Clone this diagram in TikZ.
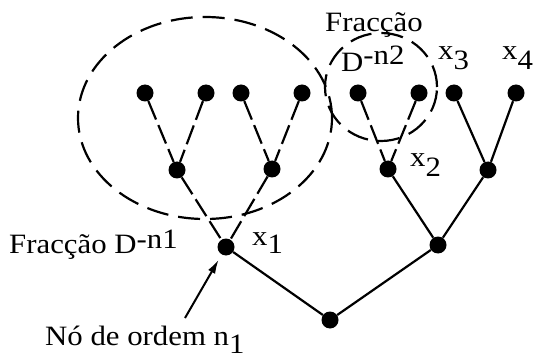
\documentclass[tikz,border=0pt]{standalone}
\usepackage{fontspec}
\setmainfont{Liberation Serif}
\usepackage{tikz}
\usetikzlibrary{arrows.meta}

\newcommand{\wide}[1]{\scalebox{1.1}[1]{#1}}
\newcommand{\lowidx}[2][10pt]{\raisebox{-#1}{#2}}
\newcommand{\highidx}[2][7pt]{\raisebox{#1}{#2}}

\begin{document}
\begin{tikzpicture}[
    x=1pt, y=-1pt,
    dot/.style={circle, fill=black, inner sep=0pt, minimum size=17pt},
    edge/.style={line width=2.2pt},
    dedge/.style={line width=2.2pt, dash pattern=on 20pt off 6pt},
    frac/.style={line width=2.2pt, dash pattern=on 22pt off 10pt},
    lbl/.style={inner sep=0pt, anchor=base west, font=\fontsize{28}{30}\selectfont},
    arrow/.style={-{Latex[length=14pt, width=8pt]}, line width=2pt},
  ]
  \useasboundingbox (0,0) rectangle (535,358);

  % leaves
  \node[dot] (l1) at (145,93) {};
  \node[dot] (l2) at (206,93) {};
  \node[dot] (l3) at (241,93) {};
  \node[dot] (l4) at (302,93) {};
  \node[dot] (l5) at (358,93) {};
  \node[dot] (l6) at (419,93) {};
  \node[dot] (l7) at (454,93) {};
  \node[dot] (l8) at (516,93) {};

  % inner nodes
  \node[dot] (m1) at (177,170) {};
  \node[dot] (m2) at (272,169) {};
  \node[dot] (x2) at (388,169) {};
  \node[dot] (m4) at (488,170) {};
  \node[dot] (x1) at (226,247) {};
  \node[dot] (r2) at (438,245) {};
  \node[dot] (root) at (330,320) {};

  % labels
  \node[lbl] (tx1) at (252,245) {\wide{x\lowidx[8pt]{1}}};
  \node[lbl] (tx2) at (410,167) {\wide{x\lowidx{2}}};
  \node[lbl] (tx3) at (438,60) {\wide{x\lowidx{3}}};
  \node[lbl] (tx4) at (502,60) {\wide{x\lowidx{4}}};
  \node[lbl] (frac1) at (9,253) {\wide{Fracção D\highidx[5pt]{-n1}}};
  \node[lbl] (frac2a) at (325,32) {\wide{Fracção}};
  \node[lbl] (frac2b) at (341,72) {\wide{D\highidx{-n2}}};
  \node[lbl] (order) at (45,345) {\wide{Nó de ordem n\lowidx[8pt]{1}}};
  \coordinate (tail) at (185,318);

  % fractions
  \draw[frac] (205,118) ellipse [x radius=127pt, y radius=101pt];
  \draw[frac] (381,87) ellipse [x radius=56pt, y radius=54pt];

  % edges
  \draw[dedge] (l1) -- (m1);
  \draw[dedge] (l2) -- (m1);
  \draw[dedge] (l3) -- (m2);
  \draw[dedge] (l4) -- (m2);
  \draw[dedge] (m1) -- (x1);
  \draw[dedge] (m2) -- (x1);
  \draw[dedge] (l5) -- (x2);
  \draw[dedge] (l6) -- (x2);
  \draw[edge] (l7) -- (m4);
  \draw[edge] (l8) -- (m4);
  \draw[edge] (x2) -- (r2);
  \draw[edge] (m4) -- (r2);
  \draw[edge] (x1) -- (root);
  \draw[edge] (r2) -- (root);

  \draw[arrow, shorten >=6pt] (tail) -- (x1);

\end{tikzpicture}
\end{document}
